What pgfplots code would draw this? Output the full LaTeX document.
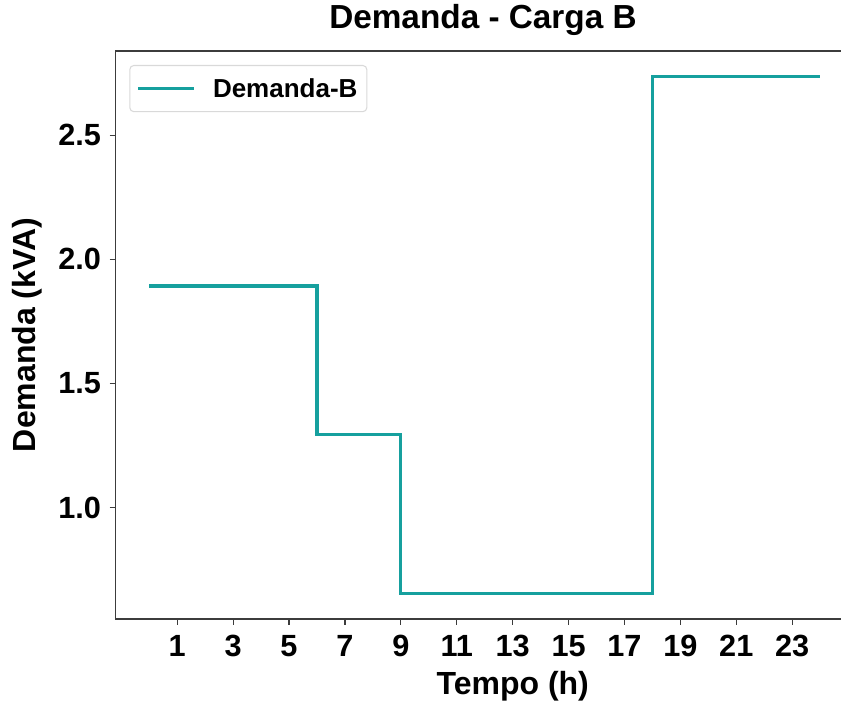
\documentclass[border=0pt]{standalone}
\usepackage{fontspec}
\setmainfont{Liberation Sans}
\usepackage{pgfplots}
\pgfplotsset{compat=1.18}
\definecolor{demb}{RGB}{22,160,158}
\definecolor{spine}{RGB}{60,60,60}
\begin{document}
\begin{tikzpicture}
\begin{axis}[
    name=ax,
    at={(0,0)}, anchor=south west,
    scale only axis,
    width=553.5pt, height=426pt,
    xmin=-1.2, xmax=25.2,
    ymin=0.552, ymax=2.839,
    axis line style={spine, line width=1.1pt},
    xtick={1,3,...,23},
    ytick={1.0,1.5,2.0,2.5},
    tick align=outside,
    xtick pos=bottom, ytick pos=left,
    major tick length=4.5pt,
    tick style={spine, line width=0.9pt},
    /pgf/number format/assume math mode=true,
    /pgf/number format/.cd, fixed, fixed zerofill, precision=1, /pgfplots/.cd,
    xticklabel={\pgfmathprintnumber[fixed, precision=0]{\tick}},
    tick label style={font=\bfseries\fontsize{23}{23}\selectfont},
    xticklabel style={yshift=-4pt},
    yticklabel style={xshift=-3pt},
    title={Demanda - Carga B},
    title style={font=\bfseries\fontsize{25}{25}\selectfont, at={(axis description cs:0.4977,1.0252)}, anchor=base},
    xlabel={Tempo (h)},
    xlabel style={font=\bfseries\fontsize{24}{24}\selectfont, at={(axis description cs:0.538,-0.1338)}, anchor=base},
    ylabel={Demanda (kVA)},
    ylabel style={font=\bfseries\fontsize{24}{24}\selectfont, at={(axis description cs:-0.1093,0.5)}, anchor=base, rotate=0},
    legend style={at={(axis description cs:0.0184,0.9754)}, anchor=north west,
        draw=black!15, rounded corners=3pt, line width=0.8pt,
        font=\bfseries\fontsize{19.5}{19.5}\selectfont,
        inner xsep=5pt, inner ysep=7.5pt,
        /tikz/every odd column/.append style={column sep=11pt}},
    legend image code/.code={\draw[#1] (0pt,0pt) -- (42pt,0pt);},
    legend cell align=left,
]
\addplot[const plot, color=demb, line width=2.4pt] coordinates {
    (0,1.893) (6,1.296) (9,0.655) (18,2.737) (24,2.737)
};
\addlegendentry{Demanda-B\hspace{10pt}}
\end{axis}
\pgfresetboundingbox
\path[use as bounding box] (-86.78pt,-65.25pt) rectangle (543.98pt,464.25pt);
\end{tikzpicture}
\end{document}
